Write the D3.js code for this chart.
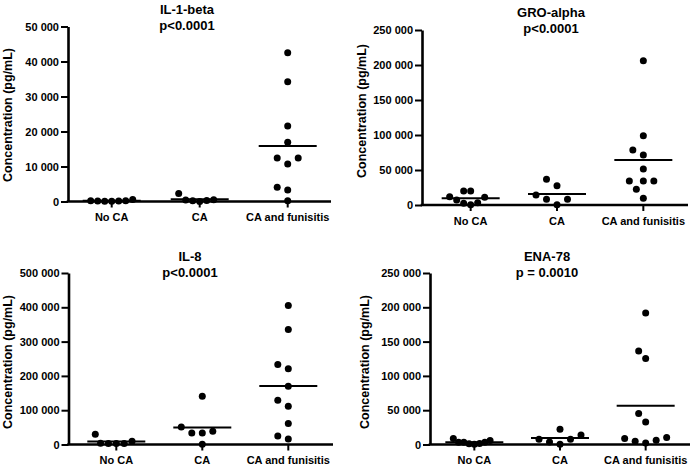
<!DOCTYPE html>
<html>
<head>
<meta charset="utf-8">
<script src="https://cdn.jsdelivr.net/npm/d3@7.9.0/dist/d3.min.js"></script>
<style>
  body { margin: 0; background: #fff; }
  svg { display: block; font-family: "Liberation Sans", Arial, sans-serif; font-weight: bold; }
  .tick text { font-weight: bold; }
</style>
</head>
<body>
<svg width="690" height="468"></svg>
<script>
// groups on the x axis
const categories = ['No CA', 'CA', 'CA and funisitis'];

// values (pg/mL)
const il1NoCA = [100, 200, 600, 150, 200, 150, 100];
const il1CA = [450, 300, 0, 2300, 250, 480];
const il1Fun = [42500, 34200, 21600, 16900, 12400, 12400, 10700, 4100, 3300, 200];

const groNoCA = [11000, 20000, 20000, 11900, 3300, 500, 2400, 7100];
const groCA = [36700, 27600, 14300, 8100, 8100, 500];
const groFun = [206100, 99000, 78600, 71400, 51400, 34300, 34300, 34300, 22400, 9500];

const il8NoCA = [9600, 30000, 3000, 3000, 3500, 3000];
const il8CA = [140400, 51200, 33700, 33700, 38700, 1000];
const il8Fun = [405000, 335000, 233500, 221000, 169500, 128800, 111300, 61000, 25000, 16300];

const enaNoCA = [3400, 1000, 6000, 200, 3400, 1500, 8700, 3400];
const enaCA = [14000, 7700, 22300, 500, 3800, 7700];
const enaFun = [191700, 136300, 125300, 45200, 32900, 10200, 6300, 2300, 4800, 8700];

const titles = ['IL-1-beta', 'GRO-alpha', 'IL-8', 'ENA-78'];
const pValues = ['p<0.0001', 'p<0.0001', 'p<0.0001', 'p = 0.0010'];
const yMaxes = [50000, 250000, 500000, 250000];
const yTickSteps = [10000, 50000, 100000, 50000];
const groups = [
  [il1NoCA, il1CA, il1Fun],
  [groNoCA, groCA, groFun],
  [il8NoCA, il8CA, il8Fun],
  [enaNoCA, enaCA, enaFun]
];

// where each panel sits on the page
const layout = [
  { axisX: 68, x0: 67.7, x1: 331.7, xEnd: 331, yTop: 26.5, yBot: 201.5, titleX: 187, titleY: 13.5, labelX: 12, labelY: 115 },
  { axisX: 422, x0: 427.5, x1: 686.5, xEnd: 688, yTop: 30, yBot: 205, titleX: 551, titleY: 16.5, labelX: 366, labelY: 111 },
  { axisX: 68.5, x0: 73.3, x1: 331.3, xEnd: 333, yTop: 273, yBot: 444.5, titleX: 190, titleY: 260.5, labelX: 12, labelY: 362 },
  { axisX: 430, x0: 431.5, x1: 688.5, xEnd: 690, yTop: 273, yBot: 444.5, titleX: 547, titleY: 260.5, labelX: 369, labelY: 362 }
];

const r = 3.5;
const fmt = d3.formatLocale({ decimal: '.', thousands: '\u00a0', grouping: [3], currency: ['', ''] }).format(',');
const svg = d3.select('svg');

// simple beeswarm: put each dot as close to the centre as it fits,
// then squeeze the group if it got wider than the column allows
function swarm(values, y) {
  const placed = [];
  const order = values.map((v, i) => i).sort((a, b) => values[a] - values[b]);
  const offsets = new Array(values.length);
  order.forEach((i) => {
    const py = y(values[i]);
    for (let k = 0; k < 60; k++) {
      const cands = k === 0 ? [0] : [-k * 3.5, k * 3.5];
      const ok = cands.find((dx) => placed.every((p) => Math.hypot(p.dx - dx, p.py - py) >= 10));
      if (ok !== undefined) {
        offsets[i] = ok;
        placed.push({ dx: ok, py });
        break;
      }
    }
  });
  const widest = d3.max(offsets, Math.abs);
  const k = widest > 21 ? 21 / widest : 1;
  return offsets.map((o) => o * k);
}

layout.forEach((L, pi) => {
  const g = svg.append('g');
  const x = d3.scaleBand().domain(categories).range([L.x0, L.x1]);
  const y = d3.scaleLinear().domain([0, yMaxes[pi]]).range([L.yBot, L.yTop]);

  // y axis
  const yAxis = g.append('g')
    .attr('transform', `translate(${L.axisX},0)`)
    .call(d3.axisLeft(y)
      .tickValues(d3.range(0, yMaxes[pi] + 1, yTickSteps[pi]))
      .tickFormat(fmt)
      .tickSize(7)
      .tickSizeOuter(0)
      .tickPadding(2));
  yAxis.select('.domain').attr('stroke', '#000').attr('stroke-width', 2.6);
  yAxis.selectAll('.tick line').attr('stroke-width', 2);
  yAxis.selectAll('.tick text').attr('font-size', 11).attr('fill', '#000');

  // x axis
  const xAxis = g.append('g')
    .attr('transform', `translate(0,${L.yBot})`)
    .call(d3.axisBottom(x).tickSize(6).tickSizeOuter(0).tickPadding(6));
  xAxis.select('.domain').remove();
  xAxis.selectAll('.tick line').attr('stroke-width', 2);
  xAxis.selectAll('.tick text').attr('font-size', 11).attr('fill', '#000');
  g.append('line')
    .attr('x1', L.axisX - 1.3).attr('x2', L.xEnd)
    .attr('y1', L.yBot).attr('y2', L.yBot)
    .attr('stroke', '#000').attr('stroke-width', 2.6);

  // dots + mean line
  groups[pi].forEach((vals, ci) => {
    const cx = x(categories[ci]) + x.bandwidth() / 2;
    const offs = swarm(vals, y);
    g.selectAll(null)
      .data(vals)
      .join('circle')
      .attr('cx', (d, i) => cx + offs[i])
      .attr('cy', (d) => y(d))
      .attr('r', r)
      .attr('fill', '#000');
    const m = d3.mean(vals);
    g.append('line')
      .attr('x1', cx - 29).attr('x2', cx + 29)
      .attr('y1', y(m)).attr('y2', y(m))
      .attr('stroke', '#000').attr('stroke-width', 2);
  });

  // titles
  g.append('text')
    .attr('x', L.titleX).attr('y', L.titleY)
    .attr('text-anchor', 'middle').attr('font-size', 13)
    .text(titles[pi]);
  g.append('text')
    .attr('x', L.titleX).attr('y', L.titleY + 16)
    .attr('text-anchor', 'middle').attr('font-size', 13)
    .text(pValues[pi]);

  // y label
  g.append('text')
    .attr('transform', `translate(${L.labelX},${L.labelY}) rotate(-90)`)
    .attr('text-anchor', 'middle').attr('font-size', 12.5)
    .text('Concentration (pg/mL)');
});
</script>
</body>
</html>
